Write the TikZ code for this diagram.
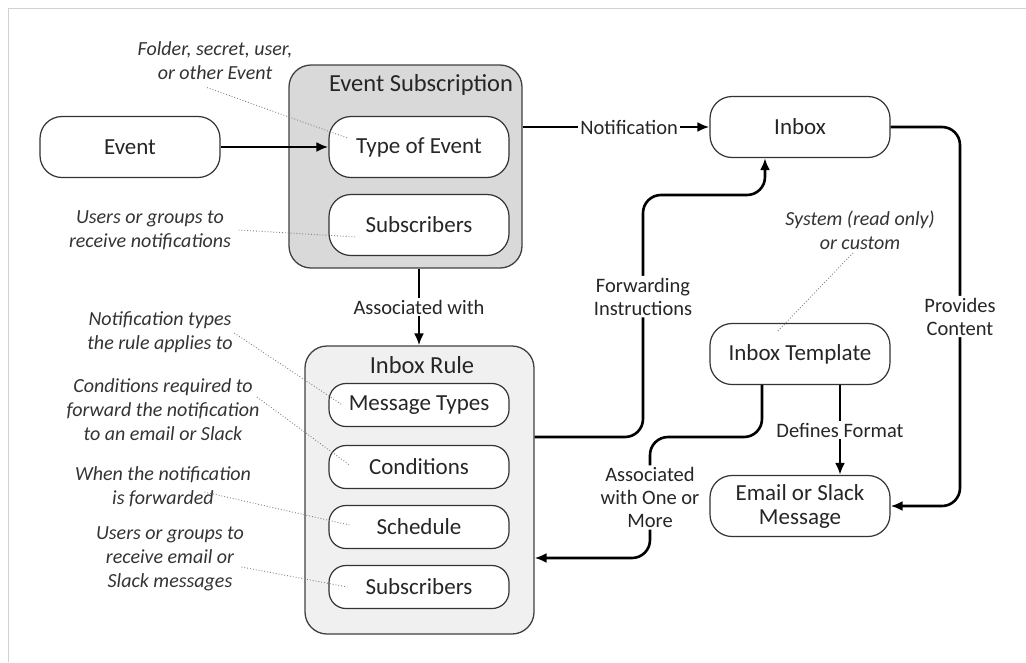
\documentclass[tikz,border=0pt]{standalone}
\usepackage{fontspec}
\setmainfont{Carlito}
\usetikzlibrary{arrows.meta}

\begin{document}
\begin{tikzpicture}[x=1pt,y=-1pt,
  box/.style={draw=black!80,line width=1.2pt,fill=white,rounded corners=22,minimum width=180,minimum height=61,align=center,font=\fontsize{23}{24}\selectfont,text=black!85},
  smallbox/.style={box,minimum height=43,rounded corners=17},
  grp/.style={draw=black!75,line width=1.3pt,rounded corners=22},
  grptitle/.style={font=\fontsize{24.5}{26}\selectfont,text=black!85},
  note/.style={align=center,font=\itshape\fontsize{20}{24}\selectfont,text=black!80},
  lbl/.style={fill=white,align=center,inner sep=2pt,font=\fontsize{20.5}{23}\selectfont,text=black!85},
  arr/.style={line width=2.6pt,-{Latex[length=12pt,width=10pt]}},
  lead/.style={dotted,black!50,line width=0.9pt}]
\useasboundingbox (0,0) rectangle (1026,662);
\draw[black!18,line width=1pt] (8,662) -- (8,8) -- (1026,8);
\node[grp,fill=black!15,minimum width=233,minimum height=203] (evsub) at (405.5,166.5) {};
\node[grptitle] (evsubt) at (421,85) {Event Subscription};
\node[grp,fill=black!6,minimum width=229,minimum height=288] (rule) at (419.5,490) {};
\node[grptitle] (rulet) at (422,365) {Inbox Rule};
\node[box] (event) at (130,147) {Event};
\node[box] (toe) at (419,147) {Type of Event};
\node[box] (subs) at (419,225) {Subscribers};
\node[box] (inbox) at (800,127) {Inbox};
\node[box] (tmpl) at (800,354) {Inbox Template};
\node[box] (email) at (800,506) {Email or Slack\\Message};
\node[smallbox] (msgt) at (419,405) {Message Types};
\node[smallbox] (cond) at (419,467) {Conditions};
\node[smallbox] (sched) at (419,527) {Schedule};
\node[smallbox] (rsubs) at (419,587) {Subscribers};
\node[note] (n1) at (215,61) {Folder, secret, user,\\or other Event};
\node[note] (n2) at (150,230) {Users or groups to\\receive notifications};
\node[note] (n3) at (160,332) {Notification types\\the rule applies to};
\node[note] (n4) at (163,410) {Conditions required to\\forward the notification\\to an email or Slack};
\node[note] (n5) at (163,487) {When the notification\\is forwarded};
\node[note] (n6) at (170,559) {Users or groups to\\receive email or\\Slack messages};
\node[note] (n7) at (860,230) {System (read only)\\or custom};
\draw[lead] ([shift={(-8,4)}]n1.south) -- ([shift={(19,-9)}]toe.west);
\draw[lead] ([xshift=4]n2.east) -- ([shift={(28,12)}]subs.west);
\draw[lead] ([shift={(-2,1)}]n3.east) -- ([xshift=14]msgt.west);
\draw[lead] ([shift={(-6,-13)}]n4.east) -- ([shift={(21,-2)}]cond.west);
\draw[lead] ([shift={(-50,5)}]n5.east) -- ([shift={(21,-2)}]sched.west);
\draw[lead] ([shift={(-6,8)}]n6.east) -- ([xshift=19]rsubs.west);
\draw[lead] ([xshift=-7]n7.south) -- ([shift={(-23,9)}]tmpl.north);
\draw[arr] (event) -- (toe);
\draw[arr] (evsub.east |- inbox.west) -- node[lbl,pos=0.57]{Notification} (inbox);
\draw[arr] (toe.south |- evsub.south) -- node[lbl]{Associated with} (toe.south |- rule.north);
\draw[arr,rounded corners=18] (rule.east |- 0,437) -- (643,437) -- node[lbl,pos=0.58]{Forwarding\\Instructions} (643,195) -- (765,195) -- ([xshift=-35]inbox.south);
\draw[arr,rounded corners=18] (inbox.east) -- (960,127) -- node[lbl]{Provides\\Content} (960,506) -- (email.east);
\draw[arr] ([xshift=40]tmpl.south) -- node[lbl]{Defines Format} ([xshift=40]email.north);
\draw[arr,rounded corners=18] ([xshift=-38]tmpl.south) -- (762,437) -- (650,437) -- node[lbl]{Associated\\with One or\\More} (650,558) -- (rule.east |- 0,558);
\end{tikzpicture}
\end{document}
